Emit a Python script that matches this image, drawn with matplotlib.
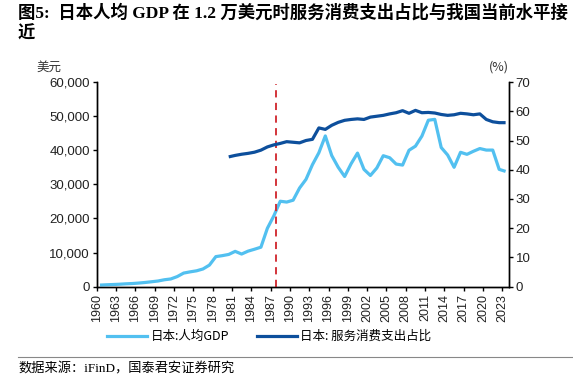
import numpy as np
import matplotlib
matplotlib.use("Agg")
import matplotlib.pyplot as plt
from matplotlib.lines import Line2D

plt.rcParams['font.family'] = ['Noto Sans CJK SC', 'DejaVu Sans']

# ---------------- data ----------------
years = list(range(1960, 2024))
gdp_pc = [475, 564, 643, 725, 845, 928, 1068, 1237, 1451, 1669,
          2037, 2272, 2967, 3997, 4354, 4659, 5198, 6335, 8821, 9105,
          9463, 10361, 9578, 10425, 10984, 11585, 17112, 20745, 25051, 24813,
          25359, 28925, 31465, 35766, 39269, 44198, 38437, 35022, 32300, 36026,
          39169, 34406, 32600, 34808, 38400, 37800, 35950, 35650, 40000, 41200,
          44150, 48800, 49050, 40800, 38600, 35000, 39400, 38800, 39700, 40500,
          40050, 40050, 34400, 33800]
svc_years = list(range(1980, 2024))
svc_share = [44.4, 44.9, 45.3, 45.6, 46.0, 46.7, 47.8, 48.5, 49.0, 49.6,
             49.4, 49.2, 50.0, 50.4, 54.3, 53.8, 55.2, 56.2, 56.9, 57.2,
             57.4, 57.2, 58.0, 58.3, 58.6, 59.1, 59.5, 60.2, 59.3, 60.3,
             59.5, 59.6, 59.4, 58.9, 58.6, 58.8, 59.3, 59.1, 58.8, 59.1,
             57.2, 56.4, 56.1, 56.1]
tick_years = years[::3]
marker_year = 1987.85

light = '#52C0F0'
dark = '#0D4F9C'

fig = plt.figure(figsize=(5.73, 3.79), dpi=100)
ax = fig.add_axes([0.1688, 0.2435, 0.7192, 0.5401])
ax2 = ax.twinx()

# category style axis: points sit in the middle of each year slot
x_gdp = np.array(years) - 1960 + 0.5
x_svc = np.array(svc_years) - 1960 + 0.5

ax.plot(x_gdp, gdp_pc, color=light, lw=2.3, solid_capstyle='butt', zorder=3)
ax2.plot(x_svc, svc_share, color=dark, lw=2.3, solid_capstyle='butt', zorder=3)
ax.plot([marker_year - 1960, marker_year - 1960], [0, 59500], color='#D0242B',
        lw=1.3, ls=(0, (4, 3)), zorder=4)

ax.set_xlim(0, 64)
ax.set_ylim(0, 60000)
ax2.set_ylim(0, 70)
ax.set_yticks(range(0, 60001, 10000))
ax.set_yticklabels(['{:,}'.format(v) for v in range(0, 60001, 10000)],
                   family=['Liberation Sans', 'DejaVu Sans'], fontsize=9.5, color='#222222')
ax2.set_yticks(range(0, 71, 10))
ax2.set_yticklabels([str(v) for v in range(0, 71, 10)],
                    family=['Liberation Sans', 'DejaVu Sans'], fontsize=9.5, color='#222222')
ax.set_xticks([y - 1960 for y in tick_years])
ax.set_xticklabels([str(y) for y in tick_years], rotation=90,
                   family=['Liberation Sans', 'DejaVu Sans'], fontsize=9, color='#222222')

for a in (ax, ax2):
    a.spines['top'].set_visible(False)
    for s in ('left', 'right', 'bottom'):
        a.spines[s].set_linewidth(1.0)
        a.spines[s].set_color('black')
    a.tick_params(direction='out', length=3, width=1, pad=2)

ax.text(-0.115, 1.04, '美元', transform=ax.transAxes, fontsize=9, ha='center', va='bottom',
        color='#333333')
ax2.text(1.0, 1.04, '(%)', transform=ax2.transAxes, fontsize=9, ha='right', va='bottom',
         color='#333333')

# legend below the axes
handles = [Line2D([], [], color=light, lw=2.3), Line2D([], [], color=dark, lw=2.3)]
fig.legend(handles, ['日本:人均GDP', '日本: 服务消费支出占比'], loc='center',
           bbox_to_anchor=(0.47, 0.112), ncol=2, frameon=False, fontsize=9,
           handlelength=3.2, handletextpad=0.3, columnspacing=2.2)

# title
title_fam = ['Liberation Serif', 'Noto Sans CJK SC']
fig.text(18 / 573, 1 - 13 / 379, '图5:  日本人均 GDP 在 1.2 万美元时服务消费支出占比与我国当前水平接',
         family=title_fam, fontsize=12.5, fontweight='bold', va='center', ha='left')
fig.text(18 / 573, 1 - 34 / 379, '近', family=title_fam, fontsize=12.5,
         fontweight='bold', va='center', ha='left')

# source line
fig.add_artist(Line2D([18 / 573, 1.0], [1 - 357 / 379, 1 - 357 / 379], color='#888888', lw=0.8))
fig.text(18 / 573, 1 - 369 / 379, '数据来源：iFinD，国泰君安证券研究',
         family=['Liberation Serif', 'Noto Sans CJK SC'], fontsize=9.5, va='center', ha='left')

fig.savefig('out.png', dpi=100)
